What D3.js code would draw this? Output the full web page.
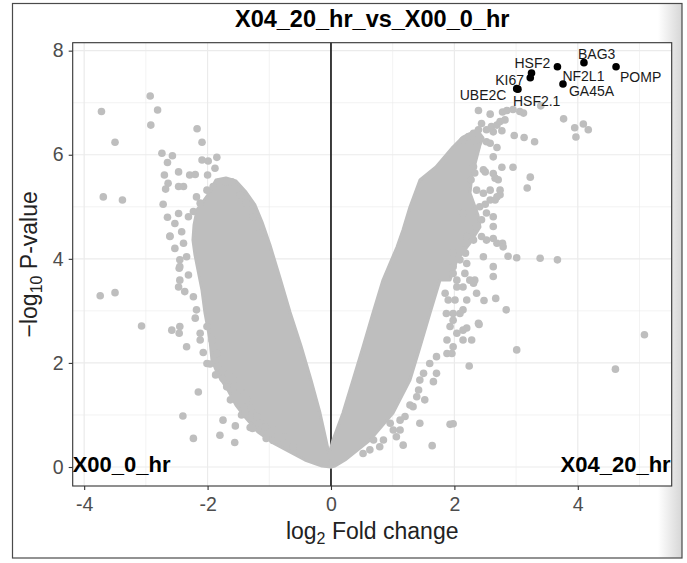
<!DOCTYPE html>
<html>
<head>
<meta charset="utf-8">
<script src="https://cdn.jsdelivr.net/npm/d3@7"></script>
<style>
body { margin: 0; background: #fff; }
text { font-family: "Liberation Sans", Arial, Helvetica, sans-serif; }
</style>
</head>
<body>
<svg id="chart" width="687" height="563"></svg>
<script>
// volcano.js

const chartTitle = "X04_20_hr_vs_X00_0_hr";
const leftGroup = "X00_0_hr";
const rightGroup = "X04_20_hr";

const xTicks = [-4, -2, 0, 2, 4];
const xMinor = [-3, -1, 1, 3, 5];
const yTicks = [0, 2, 4, 6, 8];
const yMinor = [1, 3, 5, 7];

// outline of the solid mass of overlapping points (log2FC, -log10 p)
const leftBody = [
    [-1.864, 5.515], [-1.702, 5.553], [-1.540, 5.496], [-1.378, 5.284], [-1.232, 5.035],
    [-1.118, 4.708], [-0.989, 4.266], [-0.827, 3.632], [-0.665, 2.979], [-0.486, 2.325],
    [-0.324, 1.672], [-0.178, 1.038], [-0.081, 0.519], [0.0, 0.077], [0.0, 0.0],
    [-0.146, 0.019], [-0.421, 0.135], [-0.665, 0.288], [-0.908, 0.442], [-1.183, 0.673],
    [-1.378, 0.942], [-1.540, 1.191], [-1.669, 1.480], [-1.831, 1.768], [-1.929, 2.056],
    [-1.961, 2.440], [-2.042, 2.959], [-2.091, 3.401], [-2.156, 3.786], [-2.204, 4.074],
    [-2.237, 4.362], [-2.220, 4.650], [-2.172, 4.939], [-1.994, 5.227]
];

const rightBody = [
    [0.0, 0.0], [-0.065, 0.096], [0.032, 0.519], [0.194, 1.038], [0.357, 1.672],
    [0.519, 2.306], [0.681, 2.959], [0.843, 3.593], [1.070, 4.228], [1.167, 4.554],
    [1.280, 4.996], [1.442, 5.515], [1.702, 5.765], [1.977, 6.149], [2.139, 6.341],
    [2.366, 6.476], [2.464, 6.322], [2.415, 6.188], [2.350, 5.899], [2.285, 5.611],
    [2.253, 5.265], [2.382, 4.842], [2.415, 4.612], [2.253, 4.304], [2.042, 3.978],
    [1.929, 3.593], [1.767, 3.593], [1.605, 2.959],
    [1.442, 2.306], [1.280, 1.672], [1.005, 1.038], [0.632, 0.519], [0.227, 0.135],
    [0.065, 0.019]
];

// single genes outside the solid mass
const leftPoints = [
    [-2.93, 7.13], [-2.81, 6.86], [-2.92, 6.57], [-3.72, 6.83], [-3.50, 6.24], [-3.69, 5.19],
    [-3.38, 5.13], [-3.74, 3.29], [-3.50, 3.35], [-3.07, 2.71], [-2.17, 6.50], [-2.09, 6.24],
    [-2.74, 6.03], [-2.57, 5.98], [-2.65, 5.85], [-2.09, 5.90], [-1.99, 5.88], [-1.85, 5.95],
    [-1.88, 5.74], [-2.00, 5.61], [-2.47, 5.67], [-2.29, 5.61], [-2.20, 5.62], [-2.70, 5.61],
    [-2.64, 5.45], [-2.68, 5.34], [-2.47, 5.39], [-2.39, 5.39], [-2.72, 5.05], [-2.65, 4.80],
    [-2.61, 4.44], [-2.53, 4.20], [-2.45, 3.98], [-2.46, 3.82], [-2.45, 3.59], [-2.47, 3.46],
    [-2.37, 3.37], [-2.58, 2.63], [-2.45, 2.70], [-2.46, 2.57], [-2.34, 2.31], [-2.15, 1.44],
    [-2.40, 0.98], [-2.23, 0.55], [-2.12, 2.44], [-2.07, 2.20], [-2.01, 1.99], [-1.96, 1.98],
    [-1.87, 1.77], [-1.75, 1.70], [-1.75, 0.90], [-1.80, 0.61], [-1.56, 0.47], [-1.55, 0.79],
    [-1.63, 1.29], [-1.45, 1.00], [-1.39, 1.03], [-1.31, 0.76], [-1.27, 0.74], [-1.15, 0.84],
    [-1.07, 0.77], [-1.05, 0.55], [-0.94, 0.51], [-0.85, 0.55],
    [-2.47, 4.87], [-2.53, 4.68], [-2.61, 4.43], [-2.42, 4.52], [-2.31, 4.81], [-2.23, 4.91],
    [-2.12, 5.07], [-2.18, 5.19], [-2.01, 5.32], [-1.91, 5.39], [-1.80, 5.48], [-1.69, 5.48],
    [-1.61, 5.48], [-1.47, 5.23], [-1.37, 5.07], [-1.26, 4.81], [-1.15, 4.49], [-2.39, 4.30],
    [-2.34, 4.04], [-2.45, 3.85], [-2.31, 3.69], [-2.23, 3.27], [-2.18, 3.02], [-2.20, 2.86],
    [-2.12, 2.57], [-2.01, 2.70], [-1.93, 2.44], [-1.85, 2.18], [-1.83, 1.93], [-1.66, 1.80],
    [-1.58, 1.67], [-1.69, 1.54], [-1.47, 1.48], [-1.37, 1.29], [-1.29, 1.13], [-1.20, 0.97],
    [-0.94, 0.71], [-0.77, 0.58], [-0.61, 0.39]
];

const rightPoints = [
    [2.39, 6.85], [2.58, 6.78], [2.78, 6.82], [2.85, 6.85], [2.95, 6.87], [3.06, 6.83],
    [3.12, 6.80], [3.40, 6.94], [3.77, 6.69], [3.95, 6.52], [4.09, 6.59], [4.17, 6.48],
    [3.97, 6.34], [2.97, 6.37], [3.13, 6.33], [3.30, 6.25], [2.44, 6.60], [2.63, 6.44],
    [2.77, 6.46], [2.69, 6.14], [2.63, 5.96], [2.77, 5.76], [2.95, 5.76], [3.23, 5.57],
    [3.18, 5.36], [5.08, 2.54], [4.61, 1.88], [3.01, 2.25], [3.67, 3.98], [3.39, 4.01],
    [3.01, 4.02], [2.84, 3.02], [2.67, 3.24], [2.48, 3.20], [2.40, 2.74], [2.24, 1.94],
    [1.93, 0.82], [1.98, 0.83], [1.64, 0.41], [1.44, 0.84], [2.47, 4.04], [2.63, 3.85],
    [2.63, 3.66], [2.87, 4.05], [2.17, 3.72], [2.33, 3.59], [2.18, 4.30], [2.18, 4.11],
    [2.44, 4.43], [2.63, 4.39], [2.78, 4.30], [2.63, 4.81], [2.63, 4.62], [2.58, 5.32],
    [2.74, 5.23], [2.14, 2.44], [2.28, 2.44], [2.20, 2.67], [2.39, 2.76], [1.98, 2.31],
    [1.96, 2.18], [1.93, 2.70], [1.98, 2.95], [2.14, 3.02], [2.01, 3.21], [1.87, 2.95],
    [1.71, 1.80], [1.66, 1.64], [1.42, 1.48], [1.52, 1.29], [1.28, 1.19], [1.20, 0.97],
    [1.17, 0.42], [1.12, 0.71], [0.96, 0.84], [0.85, 0.52], [0.69, 0.52], [2.20, 3.91],
    [2.25, 3.59], [1.98, 3.72], [2.04, 3.46], [1.85, 3.34], [1.90, 3.21],
    [2.14, 6.28], [2.23, 6.35], [2.31, 6.41], [2.39, 6.48], [2.52, 6.48], [2.60, 6.54],
    [2.69, 6.57], [2.74, 6.64], [2.82, 6.67], [2.36, 6.15], [2.52, 6.25], [2.58, 6.22],
    [2.31, 5.77], [2.47, 5.71], [2.63, 5.64], [2.71, 5.52], [2.74, 5.32], [2.69, 5.19],
    [2.58, 5.13], [2.47, 5.26], [2.36, 5.32], [2.14, 4.88], [2.31, 4.91], [2.41, 5.00],
    [2.52, 4.88], [2.44, 4.75], [2.36, 4.62], [2.20, 4.43], [2.31, 4.36], [2.52, 4.36],
    [2.69, 4.30], [2.79, 4.23], [1.98, 4.11], [2.09, 3.98], [1.98, 3.85], [2.04, 3.59],
    [2.14, 3.46], [2.31, 3.53], [2.36, 3.34], [2.20, 3.21], [2.09, 2.95], [1.98, 2.82],
    [2.14, 2.63], [2.04, 2.57], [1.88, 2.44], [1.88, 2.18], [1.71, 2.12], [1.60, 1.99],
    [1.50, 1.80], [1.44, 1.67], [1.39, 1.35], [1.33, 1.16], [1.12, 0.90], [1.01, 0.71],
    [1.06, 0.58], [0.79, 0.39], [0.63, 0.33], [0.52, 0.26],
    [2.27, 5.52], [2.33, 5.65], [2.50, 5.67], [2.66, 5.55], [2.66, 5.13], [2.50, 5.05]
];

// top genes, highlighted and labelled
const geneNames = ["BAG3", "POMP", "NF2L1", "HSF2", "KI67", "GA45A", "UBE2C", "HSF2.1"];
const geneFC = [4.10, 4.62, 3.67, 3.25, 3.23, 3.76, 3.01, 3.03];
const geneP = [7.77, 7.69, 7.69, 7.57, 7.48, 7.36, 7.27, 7.26];

// label offsets in px from the point (text start, baseline), as placed by ggrepel
const labelOffset = {
    "BAG3": [-6, -4], "POMP": [4, 15], "NF2L1": [5, 14], "HSF2": [-17, -5],
    "KI67": [-35, 7], "GA45A": [6, 12.5], "UBE2C": [-57, 11.5], "HSF2.1": [-5, 17]
};

drawVolcano();

function drawVolcano() {
    const svg = d3.select("#chart");
    const width = 687;
    const height = 563;
    const panel = { left: 72.7, right: 671.7, top: 42.7, bottom: 486 };
    const grey = "#bebebe";
    const r = 3.8;

    const x = d3.scaleLinear().domain([-4.186, 5.522]).range([panel.left, panel.right]);
    const y = d3.scaleLinear().domain([-0.365, 8.153]).range([panel.bottom, panel.top]);

    // outer frame and the soft shadow on its right side
    const defs = svg.append("defs");
    const grad = defs.append("linearGradient").attr("id", "shade");
    grad.append("stop").attr("offset", "0%").attr("stop-color", "#fff");
    grad.append("stop").attr("offset", "100%").attr("stop-color", "#d6d6d6");

    svg.append("rect").attr("width", width).attr("height", height).attr("fill", "#fff");
    svg.append("rect")
        .attr("x", 658).attr("y", 4).attr("width", 24).attr("height", 554)
        .attr("fill", "url(#shade)");
    svg.append("rect")
        .attr("x", 12.5).attr("y", 3.5).attr("width", 669.5).attr("height", 554.5)
        .attr("fill", "none").attr("stroke", "#4a4a4a").attr("stroke-width", 1.2);

    // panel + grid
    svg.append("rect")
        .attr("x", panel.left).attr("y", panel.top)
        .attr("width", panel.right - panel.left).attr("height", panel.bottom - panel.top)
        .attr("fill", "#fff");

    const grid = svg.append("g").attr("stroke", "#ebebeb");
    grid.selectAll(".vminor").data(xMinor).join("line")
        .attr("x1", d => x(d)).attr("x2", d => x(d))
        .attr("y1", panel.top).attr("y2", panel.bottom).attr("stroke-width", 0.6);
    grid.selectAll(".hminor").data(yMinor).join("line")
        .attr("y1", d => y(d)).attr("y2", d => y(d))
        .attr("x1", panel.left).attr("x2", panel.right).attr("stroke-width", 0.6);
    grid.selectAll(".vmajor").data(xTicks).join("line")
        .attr("x1", d => x(d)).attr("x2", d => x(d))
        .attr("y1", panel.top).attr("y2", panel.bottom).attr("stroke-width", 1.2);
    grid.selectAll(".hmajor").data(yTicks).join("line")
        .attr("y1", d => y(d)).attr("y2", d => y(d))
        .attr("x1", panel.left).attr("x2", panel.right).attr("stroke-width", 1.2);

    // vertical line at 0
    svg.append("line")
        .attr("x1", x(0)).attr("x2", x(0))
        .attr("y1", panel.top).attr("y2", panel.bottom)
        .attr("stroke", "#000").attr("stroke-width", 1.5);

    // grey genes
    const outline = d3.line().x(d => x(d[0])).y(d => y(d[1])).curve(d3.curveLinearClosed);
    svg.selectAll(".body").data([leftBody, rightBody]).join("path")
        .attr("d", outline)
        .attr("fill", grey).attr("stroke", grey)
        .attr("stroke-width", 3).attr("stroke-linejoin", "round");

    svg.append("g").selectAll("circle").data(leftPoints.concat(rightPoints)).join("circle")
        .attr("cx", d => x(d[0])).attr("cy", d => y(d[1])).attr("r", r)
        .attr("fill", grey);

    // highlighted genes
    const genes = geneNames.map((name, i) => ({ name: name, fc: geneFC[i], p: geneP[i] }));
    svg.append("g").selectAll("circle").data(genes).join("circle")
        .attr("cx", d => x(d.fc)).attr("cy", d => y(d.p)).attr("r", r)
        .attr("fill", "#000");
    svg.append("g").selectAll("text").data(genes).join("text")
        .attr("x", d => x(d.fc) + labelOffset[d.name][0])
        .attr("y", d => y(d.p) + labelOffset[d.name][1])
        .attr("font-size", "14px").attr("fill", "#1a1a1a")
        .text(d => d.name);

    // group annotations in the bottom corners
    svg.append("text")
        .attr("x", panel.left).attr("y", 472)
        .attr("font-size", "22px").attr("font-weight", "bold")
        .text(leftGroup);
    svg.append("text")
        .attr("x", panel.right - 1).attr("y", 472)
        .attr("text-anchor", "end")
        .attr("font-size", "22px").attr("font-weight", "bold")
        .text(rightGroup);

    // panel border
    svg.append("rect")
        .attr("x", panel.left).attr("y", panel.top)
        .attr("width", panel.right - panel.left).attr("height", panel.bottom - panel.top)
        .attr("fill", "none").attr("stroke", "#333").attr("stroke-width", 1.1);

    // axes
    const xAxis = svg.append("g")
        .attr("transform", `translate(0,${panel.bottom})`)
        .call(d3.axisBottom(x).tickValues(xTicks).tickSize(4).tickPadding(7).tickFormat(d => String(d)));
    const yAxis = svg.append("g")
        .attr("transform", `translate(${panel.left},0)`)
        .call(d3.axisLeft(y).tickValues(yTicks).tickSize(4).tickPadding(5).tickFormat(d => String(d)));

    [xAxis, yAxis].forEach(ax => {
        ax.select(".domain").remove();
        ax.selectAll(".tick line").attr("stroke", "#333").attr("stroke-width", 1.1);
        ax.selectAll(".tick text")
            .attr("fill", "#4d4d4d")
            .style("font-size", "19.5px")
            .style("font-family", "'Liberation Sans', Arial, sans-serif");
    });

    // axis titles
    const xTitle = svg.append("text")
        .attr("x", (panel.left + panel.right) / 2).attr("y", 539)
        .attr("text-anchor", "middle").attr("font-size", "23px").attr("fill", "#222");
    xTitle.append("tspan").text("log");
    xTitle.append("tspan").attr("font-size", "16px").attr("dy", 5).text("2");
    xTitle.append("tspan").attr("dy", -5).text(" Fold change");

    const yTitle = svg.append("text")
        .attr("transform", `translate(37,${(panel.top + panel.bottom) / 2}) rotate(-90)`)
        .attr("text-anchor", "middle").attr("font-size", "23px").attr("fill", "#222");
    yTitle.append("tspan").text("\u2212log");
    yTitle.append("tspan").attr("font-size", "16px").attr("dy", 5).text("10");
    yTitle.append("tspan").attr("dy", -5).text(" P-value");

    // title
    svg.append("text")
        .attr("x", (panel.left + panel.right) / 2).attr("y", 27)
        .attr("text-anchor", "middle")
        .attr("font-size", "23.5px").attr("font-weight", "bold")
        .text(chartTitle);
}
</script>
</body>
</html>
